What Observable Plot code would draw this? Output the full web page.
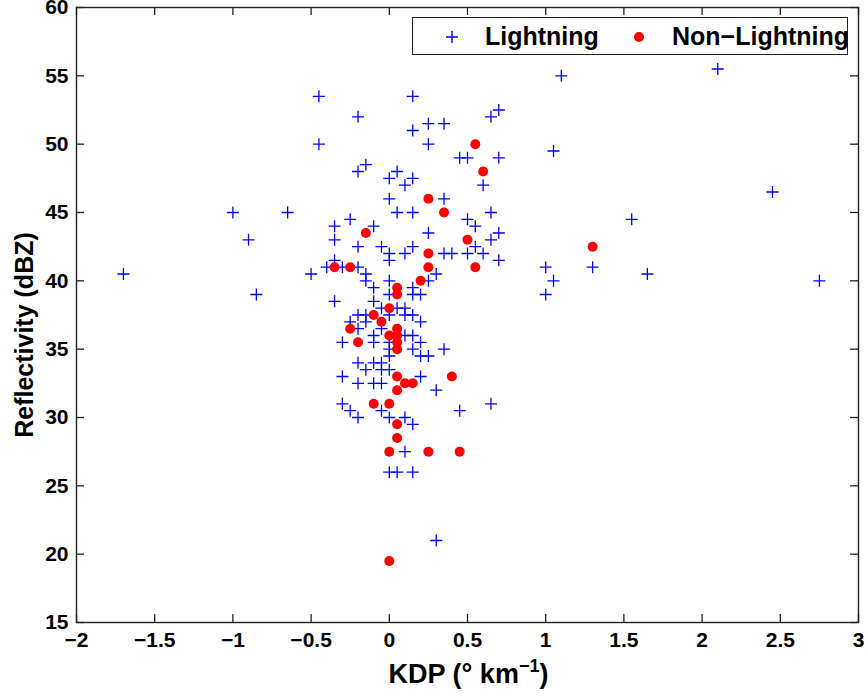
<!DOCTYPE html>
<html>
<head>
<meta charset="utf-8">
<script src="https://cdn.jsdelivr.net/npm/d3@7"></script>
<script src="https://cdn.jsdelivr.net/npm/@observablehq/plot@0.6"></script>
<style>
  html, body { margin: 0; padding: 0; background: #fff; }
  #wrap { position: relative; width: 865px; height: 696px; font-family: "Liberation Sans", Arial, sans-serif; font-weight: bold; color: #000; }
  #legend { position: absolute; left: 412px; top: 17px; width: 436px; height: 38px; border: 1px solid #222; background: #fff; box-sizing: border-box; font-size: 25px; }
  #legend span { position: absolute; top: 4px; line-height: 28px; }
  #legend svg { position: absolute; top: 0; }
  .xlabel { position: absolute; left: 0; width: 865px; top: 659px; text-align: center; font-size: 27px; padding-left: 72px; box-sizing: border-box; }
  .xlabel sup { font-size: 18px; vertical-align: 0.6em; line-height: 0; }
  .ylabel { position: absolute; left: 24px; top: 335px; transform: translate(-50%, -50%) rotate(-90deg); font-size: 25px; white-space: nowrap; }
</style>
</head>
<body>
<div id="wrap"></div>
<script>
// Lightning cases (blue +)
const lightningKDP = [
  -1.7, -1, -0.9, -0.85, -0.65, -0.5, -0.45, -0.45,
  1.1, 2.1, 1.05, 2.45, 1.55, 1, 1.3, 1.65, 2.75, 1.05, 1,
  -0.2, 0.15, 0.15, 0.25, 0.35, 0.25, 0.65, 0.7, 0.45, 0.5, 0.7, 0.6,
  -0.2, -0.15, 0, 0.05, 0.1, 0.15, 0, 0.35, 0.05, 0.15, 0.65,
  -0.25, 0.5, -0.35, -0.1, 0.55, 0.25, 0.7, -0.35, 0.65,
  -0.2, -0.05, 0.15, 0.55, 0, 0.1, 0.35, 0.4, 0.5, 0.6,
  -0.35, 0, 0.7, -0.4, -0.3, -0.2, -0.15, 0.3, -0.15, 0, 0.25,
  -0.1, 0.15, 0, 0.15, 0.2, -0.35, -0.1, -0.05, 0.05, 0.1,
  -0.2, -0.15, 0, 0.1, 0.15, -0.25, -0.15, 0.2, -0.2, -0.05,
  -0.1, 0.1, 0.15, -0.3, -0.1, 0, 0.2, 0, 0.15, 0.35,
  0, 0.2, 0.25, -0.2, -0.1, -0.05, -0.15, -0.05, 0,
  -0.3, 0.2, -0.2, -0.1, -0.05, 0.3, -0.3, 0.65,
  -0.25, -0.05, 0.45, -0.2, 0, 0.1, 0.15, 0.1, 0, 0.05, 0.15, 0.3
];
const lightningZ = [
  40.5, 45, 43, 39, 45, 40.5, 53.5, 50,
  55, 55.5, 49.5, 46.5, 44.5, 41, 41, 40.5, 40, 40, 39,
  52, 53.5, 51, 51.5, 51.5, 50, 52, 52.5, 49, 49, 49, 47,
  48, 48.5, 47.5, 48, 47, 47.5, 46, 46, 45, 45, 45,
  44.5, 44.5, 44, 44, 44, 43.5, 43.5, 43, 43,
  42.5, 42.5, 42.5, 42.5, 42, 42, 42, 42, 42, 42,
  41.5, 41.5, 41.5, 41, 41, 41, 40.5, 40.5, 40, 40, 40,
  39.5, 39.5, 39, 39, 39, 38.5, 38.5, 38, 38, 38,
  37.5, 37.5, 37.5, 37.5, 37.5, 37, 37, 37, 36.5, 36.5,
  36, 36, 36, 35.5, 35.5, 35.5, 35.5, 35, 35, 35,
  34.5, 34.5, 34.5, 34, 34, 34, 33.5, 33.5, 33.5,
  33, 33, 32.5, 32.5, 32.5, 32, 31, 31,
  30.5, 30.5, 30.5, 30, 30, 30, 29.5, 27.5, 26, 26, 26, 21
];

// Non-lightning cases (red dots)
const nonLightningKDP = [
  0.55, 0.6, 0.25, 0.35, -0.15, 0.5, 0.25, 1.3, -0.35, -0.25, 0.25, 0.55,
  0.2, 0.05, 0.05, 0, -0.1, -0.05, -0.25, 0.05, 0, 0.05, -0.2, 0.05, 0.05,
  0.05, 0.4, 0.1, 0.15, 0.05, -0.1, 0, 0.05, 0.05, 0, 0.25, 0.45, 0
];
const nonLightningZ = [
  50, 48, 46, 45, 43.5, 43, 42, 42.5, 41, 41, 41, 41,
  40, 39.5, 39, 38, 37.5, 37, 36.5, 36.5, 36, 36, 35.5, 35.5, 35,
  33, 33, 32.5, 32.5, 32, 31, 31, 29.5, 28.5, 27.5, 27.5, 27.5, 19.5
];

const xTicks = [-2, -1.5, -1, -0.5, 0, 0.5, 1, 1.5, 2, 2.5, 3];
const yTicks = [15, 20, 25, 30, 35, 40, 45, 50, 55, 60];
const seriesNames = ["Lightning", "Non\u2212Lightning"];

const lightning = lightningKDP.map((k, i) => ({kdp: k, z: lightningZ[i]}));
const nonLightning = nonLightningKDP.map((k, i) => ({kdp: k, z: nonLightningZ[i]}));

const W = 865, H = 696, mL = 76, mR = 7, mT = 7, mB = 74;
const innerW = W - mL - mR, innerH = H - mT - mB, tk = 8;
const axisColor = "#222";
const fmt = d => String(d).replace("-", "\u2212");

const chart = Plot.plot({
  width: W, height: H,
  marginLeft: mL, marginRight: mR, marginTop: mT, marginBottom: mB,
  style: {fontFamily: "'Liberation Sans', Arial, sans-serif", fontWeight: "bold", background: "#fff", color: "#000", overflow: "visible"},
  x: {domain: [-2, 3]},
  y: {domain: [15, 60]},
  marks: [
    Plot.axisX(xTicks, {tickSize: 0, tickPadding: 10, tickFormat: fmt, fontSize: 21, fontWeight: "bold", label: null, fill: "#000"}),
    Plot.axisY(yTicks, {tickSize: 0, tickPadding: 8, tickFormat: fmt, fontSize: 21, fontWeight: "bold", label: null, fill: "#000"}),
    // inward ticks on all four sides
    Plot.tickX(xTicks, {x: d => d, insetTop: innerH - tk, stroke: axisColor, strokeWidth: 1.3}),
    Plot.tickX(xTicks, {x: d => d, insetBottom: innerH - tk, stroke: axisColor, strokeWidth: 1.3}),
    Plot.tickY(yTicks, {y: d => d, insetRight: innerW - tk, stroke: axisColor, strokeWidth: 1.3}),
    Plot.tickY(yTicks, {y: d => d, insetLeft: innerW - tk, stroke: axisColor, strokeWidth: 1.3}),
    Plot.dot(lightning, {x: "kdp", y: "z", symbol: "plus", r: 3.95, stroke: "#0000ff", strokeWidth: 1.3}),
    Plot.dot(nonLightning, {x: "kdp", y: "z", r: 5, fill: "#ff0000", stroke: "none"}),
    Plot.frame({stroke: axisColor, strokeWidth: 1.4})
  ]
});

const wrap = document.getElementById("wrap");
wrap.appendChild(chart);

const legend = document.createElement("div");
legend.id = "legend";
legend.innerHTML =
  `<svg width="30" height="38" style="left:24px"><path d="M9,19H21M15,13V25" stroke="#0000ff" stroke-width="1.4" fill="none"/></svg>` +
  `<span style="left:72px">${seriesNames[0]}</span>` +
  `<svg width="30" height="38" style="left:211px"><circle cx="15" cy="19" r="5" fill="#ff0000"/></svg>` +
  `<span style="left:259px">${seriesNames[1]}</span>`;
wrap.appendChild(legend);

const xl = document.createElement("div");
xl.className = "xlabel";
xl.innerHTML = "KDP (\u00b0 km<sup>\u22121</sup>)";
wrap.appendChild(xl);

const yl = document.createElement("div");
yl.className = "ylabel";
yl.textContent = "Reflectivity (dBZ)";
wrap.appendChild(yl);
</script>
</body>
</html>
